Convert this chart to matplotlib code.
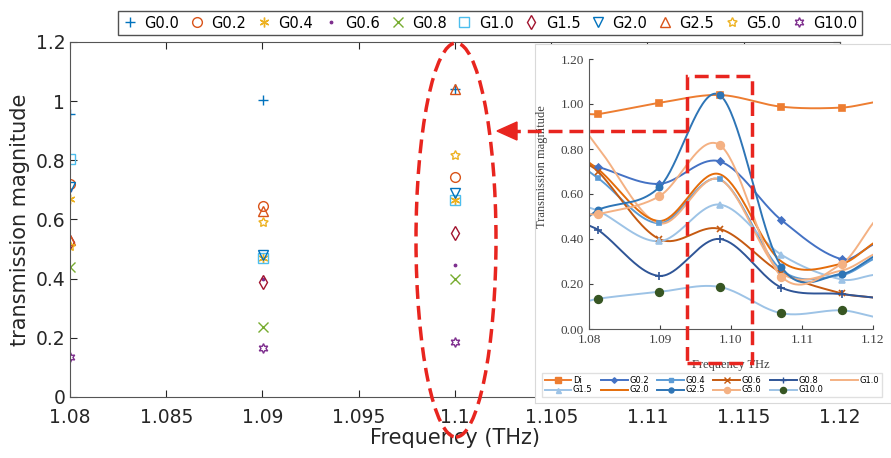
import matplotlib

matplotlib.use("Agg")

import matplotlib.pyplot as plt
import numpy as np
from matplotlib.lines import Line2D
from matplotlib.patches import Ellipse, Polygon, Rectangle
from matplotlib.ticker import FuncFormatter

# ---------------------------------------------------------------- data
series_labels = ["G0.0", "G0.2", "G0.4", "G0.6", "G0.8", "G1.0",
                 "G1.5", "G2.0", "G2.5", "G5.0", "G10.0"]
inset_labels = ["Di", "G0.2", "G0.4", "G0.6", "G0.8", "G1.0",
                "G1.5", "G2.0", "G2.5", "G5.0", "G10.0"]

# main chart frequencies (THz) -> first three measured points
freq_main = [1.08, 1.09, 1.10]
# inset (simulation) frequencies
freq_inset = [1.0813, 1.0899, 1.0984, 1.1071, 1.1156]

g00 = [0.955, 1.005, 1.040, 0.988, 0.984]
g02 = [0.720, 0.645, 0.745, 0.484, 0.310]
g04 = [0.670, 0.470, 0.665, 0.262, 0.240]
g06 = [0.700, 0.400, 0.445, 0.250, 0.158]
g08 = [0.440, 0.236, 0.400, 0.184, 0.155]
g10 = [0.805, 0.470, 0.665, 0.250, 0.260]
g15 = [0.525, 0.390, 0.553, 0.330, 0.220]
g20 = [0.710, 0.480, 0.688, 0.300, 0.290]
g25 = [0.530, 0.630, 1.040, 0.277, 0.245]
g50 = [0.510, 0.590, 0.818, 0.233, 0.290]
g100 = [0.135, 0.165, 0.187, 0.070, 0.083]
series_values = [g00, g02, g04, g06, g08, g10, g15, g20, g25, g50, g100]

# inset curve values where they meet the axis edges (1.08 and 1.12)
edge_left = [0.955, 0.73, 0.70, 0.73, 0.46, 0.86, 0.54, 0.74, 0.50, 0.51, 0.125]
edge_right = [1.007, 0.375, 0.31, 0.14, 0.14, 0.33, 0.24, 0.38, 0.32, 0.47, 0.055]

# ---------------------------------------------------------------- styles
W, H = 891, 458

main_colors = ["#0072BD", "#D95319", "#EDB120", "#7E2F8E", "#77AC30", "#4DBEEE",
               "#A2142F", "#0072BD", "#D95319", "#EDB120", "#7E2F8E"]
main_markers = ["+", "o", (6, 2, 0), ".", "x", "s", "d", "v", "^", (5, 1, 0), (6, 1, 0)]

inset_line_colors = ["#ED7D31", "#4472C4", "#5B9BD5", "#C55A11", "#2F5597", "#F4B183",
                     "#9DC3E6", "#E46C0A", "#2E75B6", "#F4B183", "#9DC3E6"]
inset_marker_colors = ["#ED7D31", "#4472C4", "#5B9BD5", "#C55A11", "#2F5597", "#F4B183",
                       "#9DC3E6", "#E46C0A", "#2E75B6", "#F4B183", "#375623"]
inset_markers = ["s", "D", "s", "x", "+", None, "^", None, "o", "o", "o"]
inset_marker_sizes = [5, 3.5, 3.5, 5, 6, 0, 4.5, 0, 4.5, 5.5, 5.5]

RED = "#E8251F"


def fx(px):
    return px / W


def fy(py):
    return 1 - py / H


def smooth_curve(xs, ys, n=40):
    xs = np.asarray(xs, float)
    ys = np.asarray(ys, float)
    m = np.empty_like(ys)
    m[1:-1] = (ys[2:] - ys[:-2]) / (xs[2:] - xs[:-2])
    m[0] = (ys[1] - ys[0]) / (xs[1] - xs[0])
    m[-1] = (ys[-1] - ys[-2]) / (xs[-1] - xs[-2])
    out_x, out_y = [], []
    t = np.linspace(0, 1, n)
    for i in range(len(xs) - 1):
        h = xs[i + 1] - xs[i]
        h00 = 2 * t**3 - 3 * t**2 + 1
        h10 = t**3 - 2 * t**2 + t
        h01 = -2 * t**3 + 3 * t**2
        h11 = t**3 - t**2
        out_x.append(xs[i] + t * h)
        out_y.append(h00 * ys[i] + h10 * h * m[i] + h01 * ys[i + 1] + h11 * h * m[i + 1])
    return np.concatenate(out_x), np.concatenate(out_y)


fig = plt.figure(figsize=(W / 100, H / 100), dpi=100)

# ---------------------------------------------------------------- main chart
ax = fig.add_axes([fx(70), fy(397), fx(840) - fx(70), fy(42) - fy(397)])

for label, vals, color, marker in zip(series_labels, series_values, main_colors, main_markers):
    size = 3.5 if marker == "." else 7
    ax.plot(
        freq_main,
        vals[:3],
        linestyle="none",
        marker=marker,
        markersize=size,
        markerfacecolor="none" if marker != "." else color,
        markeredgecolor=color,
        markeredgewidth=1.0,
        label=label,
    )

ax.set_xlim(1.08, 1.12)
ax.set_ylim(0, 1.2)
ax.set_xticks(np.arange(1.08, 1.1201, 0.005))
ax.set_yticks(np.arange(0, 1.201, 0.2))
ax.xaxis.set_major_formatter(FuncFormatter(lambda v, p: f"{v:g}"))
ax.yaxis.set_major_formatter(FuncFormatter(lambda v, p: f"{v:g}"))
ax.tick_params(direction="in", top=True, right=True, length=5,
               labelsize=13.5, colors="#262626", width=0.8)
ax.tick_params(axis="x", pad=8)
for spine in ax.spines.values():
    spine.set_color("#555555")
    spine.set_linewidth(0.8)
ax.set_xlabel("Frequency (THz)", fontsize=15, color="#262626", labelpad=1)
ax.set_ylabel("transmission magnitude", fontsize=15, color="#262626")

ax.legend(
    ncol=11,
    loc="center",
    bbox_to_anchor=(fx(490), fy(23)),
    bbox_transform=fig.transFigure,
    fontsize=10.5,
    frameon=True,
    fancybox=False,
    edgecolor="#262626",
    handlelength=1.0,
    handletextpad=0.5,
    columnspacing=0.7,
    borderpad=0.3,
    numpoints=1,
)

# ---------------------------------------------------------------- inset
bg = fig.add_axes([fx(535), fy(403), fx(891) - fx(535), fy(44) - fy(403)])
bg.set_facecolor("white")
bg.set_xticks([])
bg.set_yticks([])
for spine in bg.spines.values():
    spine.set_color("#d9d9d9")
    spine.set_linewidth(0.8)

ins = fig.add_axes([fx(589), fy(329), fx(873) - fx(589), fy(59) - fy(329)])
ins.patch.set_alpha(0)

node_x = [1.08] + freq_inset + [1.12]
handles = []
for i, vals in enumerate(series_values):
    cx, cy = smooth_curve(node_x, [edge_left[i]] + vals + [edge_right[i]])
    ins.plot(cx, cy, color=inset_line_colors[i], linewidth=1.4, zorder=2)
    if inset_markers[i] is not None:
        ins.plot(freq_inset, vals, linestyle="none", marker=inset_markers[i],
                 markersize=inset_marker_sizes[i], color=inset_marker_colors[i],
                 markeredgewidth=1.2, zorder=3)
    handles.append(Line2D([], [], color=inset_line_colors[i], linewidth=1.4,
                          marker=inset_markers[i], markersize=inset_marker_sizes[i] * 0.8,
                          markerfacecolor=inset_marker_colors[i],
                          markeredgecolor=inset_marker_colors[i]))

ins.set_xlim(1.08, 1.12)
ins.set_ylim(0, 1.2)
ins.set_xticks(np.arange(1.08, 1.1201, 0.01))
ins.set_yticks(np.arange(0, 1.201, 0.2))
ins.xaxis.set_major_formatter(FuncFormatter(lambda v, p: f"{v:.2f}"))
ins.yaxis.set_major_formatter(FuncFormatter(lambda v, p: f"{v:.2f}"))
ins.tick_params(direction="in", length=3, labelsize=9.5, colors="#404040", width=0.8)
for lab in ins.get_xticklabels() + ins.get_yticklabels():
    lab.set_family("Liberation Serif")
ins.spines["top"].set_visible(False)
ins.spines["right"].set_visible(False)
ins.spines["left"].set_color("#595959")
ins.spines["bottom"].set_color("#595959")
ins.set_ylabel("Transmission magnitude", fontsize=9, family="Liberation Serif", color="#404040")
ins.yaxis.set_label_coords(-0.145, 0.6)
ins.set_xlabel("Frequency THz", fontsize=9, family="Liberation Serif", color="#404040")
ins.xaxis.set_label_coords(0.5, -0.11)

order = [0, 6, 1, 7, 2, 8, 3, 9, 4, 10, 5]
fig.legend(
    [handles[k] for k in order],
    [inset_labels[k] for k in order],
    ncol=6,
    loc="center",
    bbox_to_anchor=(fx(712), fy(385)),
    fontsize=6,
    frameon=True,
    fancybox=False,
    edgecolor="#d9d9d9",
    handlelength=3.2,
    handletextpad=0.2,
    columnspacing=1.0,
    labelspacing=0.1,
    borderpad=0.3,
)

# ---------------------------------------------------------------- red annotations
dash = (0, (4, 2))
fig.add_artist(Ellipse((fx(456), fy(240)), fx(80), 394 / H, transform=fig.transFigure,
                       fill=False, edgecolor=RED, linewidth=2.5, linestyle=dash, zorder=10))
fig.add_artist(Rectangle((fx(687), fy(363)), fx(752) - fx(687), fy(76) - fy(363),
                         transform=fig.transFigure, fill=False, edgecolor=RED,
                         linewidth=2.5, linestyle=dash, zorder=10))
fig.add_artist(Line2D([fx(687), fx(514)], [fy(131), fy(131)], transform=fig.transFigure,
                      color=RED, linewidth=2.5, linestyle=dash, zorder=10))
fig.add_artist(Polygon([[fx(497), fy(131)], [fx(517), fy(122)], [fx(517), fy(140)]],
                       closed=True, transform=fig.transFigure, facecolor=RED,
                       edgecolor=RED, zorder=10))

fig.savefig("out.png", dpi=100)
